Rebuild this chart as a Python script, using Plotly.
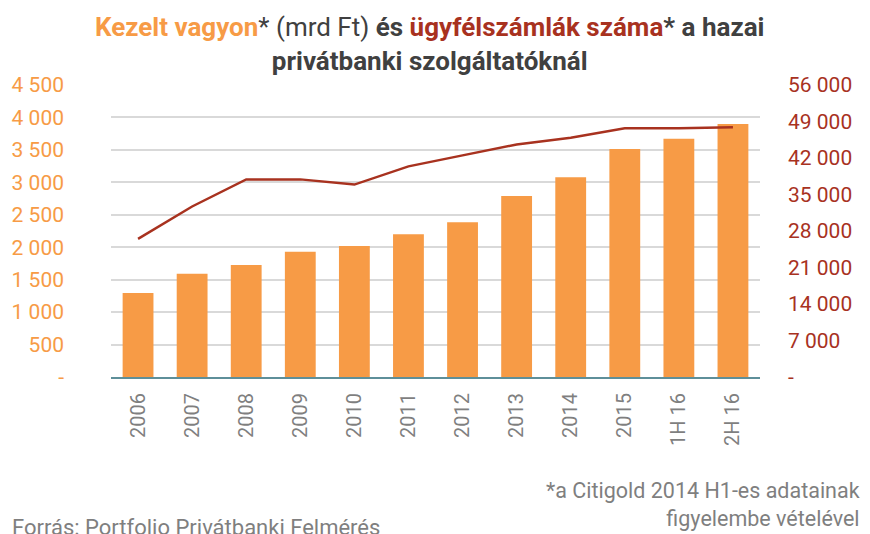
import plotly.graph_objects as go

categories = ["2006", "2007", "2008", "2009", "2010", "2011", "2012", "2013", "2014", "2015", "1H 16", "2H 16"]
assets_bn_huf = [1295, 1590, 1725, 1930, 2020, 2200, 2385, 2790, 3080, 3515, 3670, 3900]
client_accounts = [26500, 32700, 37900, 37900, 36900, 40400, 42500, 44600, 45900, 47700, 47700, 47900]

left_ticks = [0, 500, 1000, 1500, 2000, 2500, 3000, 3500, 4000, 4500]
left_labels = ["-", "500", "1 000", "1 500", "2 000", "2 500", "3 000", "3 500", "4 000", "4 500"]
right_ticks = [0, 7000, 14000, 21000, 28000, 35000, 42000, 49000, 56000]
right_labels = ["-", "7 000", "14 000", "21 000", "28 000", "35 000", "42 000", "49 000", "56 000"]

ORANGE = "#F79B46"
DARK_RED = "#A8321F"
TEXT = "#404040"
GRAY = "#7F7F7F"
FONT = "Roboto"

# the page sits 8px in from the window corner, so size the figure to fit
W, H = 862, 526
PL, PR, PT, PB = 103, 752, 77, 369
PW, PH = PR - PL, PB - PT


def px(x):
    return (x - PL) / PW


def py(y):
    return (PB - y) / PH


fig = go.Figure()
fig.add_trace(
    go.Bar(
        x=categories,
        y=assets_bn_huf,
        marker_color=ORANGE,
        marker_line_width=0,
        width=0.57,
        yaxis="y",
        showlegend=False,
    )
)
fig.add_trace(
    go.Scatter(
        x=categories,
        y=client_accounts,
        mode="lines",
        line=dict(color=DARK_RED, width=2.5),
        yaxis="y2",
        showlegend=False,
    )
)

title_text = (
    f"<b><span style='color:{ORANGE}'>Kezelt vagyon</span></b>"
    f"<span style='color:{TEXT}'>* (mrd Ft) </span>"
    f"<b><span style='color:{TEXT}'>és </span></b>"
    f"<b><span style='color:{DARK_RED}'>ügyfélszámlák száma</span></b>"
    f"<b><span style='color:{TEXT}'>* a hazai</span></b><br>"
    f"<b><span style='color:{TEXT}'>privátbanki szolgáltatóknál</span></b>"
)

fig.update_layout(
    width=W,
    height=H,
    margin=dict(l=PL, r=W - PR, t=PT, b=H - PB),
    paper_bgcolor="white",
    plot_bgcolor="white",
    font=dict(family=FONT, size=15, color=GRAY),
    xaxis=dict(
        tickangle=-90,
        tickfont=dict(size=20, color=GRAY),
        showgrid=False,
        showline=True,
        linecolor="#5E8F99",
        linewidth=2,
        ticks="",
        ticklabelstandoff=6,
        automargin=False,
    ),
    yaxis=dict(
        range=[0, 4500],
        tickmode="array",
        tickvals=left_ticks,
        ticktext=left_labels,
        tickfont=dict(size=21, color=ORANGE),
        gridcolor="#D9D9D9",
        gridwidth=1.5,
        zeroline=False,
        ticklabelstandoff=46,
        automargin=False,
    ),
    yaxis2=dict(
        range=[0, 56000],
        overlaying="y",
        side="right",
        tickmode="array",
        tickvals=right_ticks,
        ticktext=right_labels,
        tickfont=dict(size=21, color=DARK_RED),
        showgrid=False,
        zeroline=False,
        ticklabelstandoff=27,
        automargin=False,
    ),
    annotations=[
        dict(
            text=title_text,
            xref="paper", yref="paper",
            x=px(421), y=py(35.5),
            xanchor="center", yanchor="middle",
            showarrow=False,
            font=dict(family=FONT, size=26, color=TEXT),
        ),
        dict(
            text="*a Citigold 2014 H1-es adatainak<br>figyelembe vételével",
            xref="paper", yref="paper",
            x=px(854), y=py(496.5),
            xanchor="right", yanchor="middle",
            align="right",
            showarrow=False,
            font=dict(family=FONT, size=21.5, color=GRAY),
        ),
        dict(
            text="Forrás: Portfolio Privátbanki Felmérés",
            xref="paper", yref="paper",
            x=px(2), y=py(519),
            xanchor="left", yanchor="middle",
            showarrow=False,
            font=dict(family=FONT, size=22, color=GRAY),
        ),
    ],
)

fig.write_html("out.html")
